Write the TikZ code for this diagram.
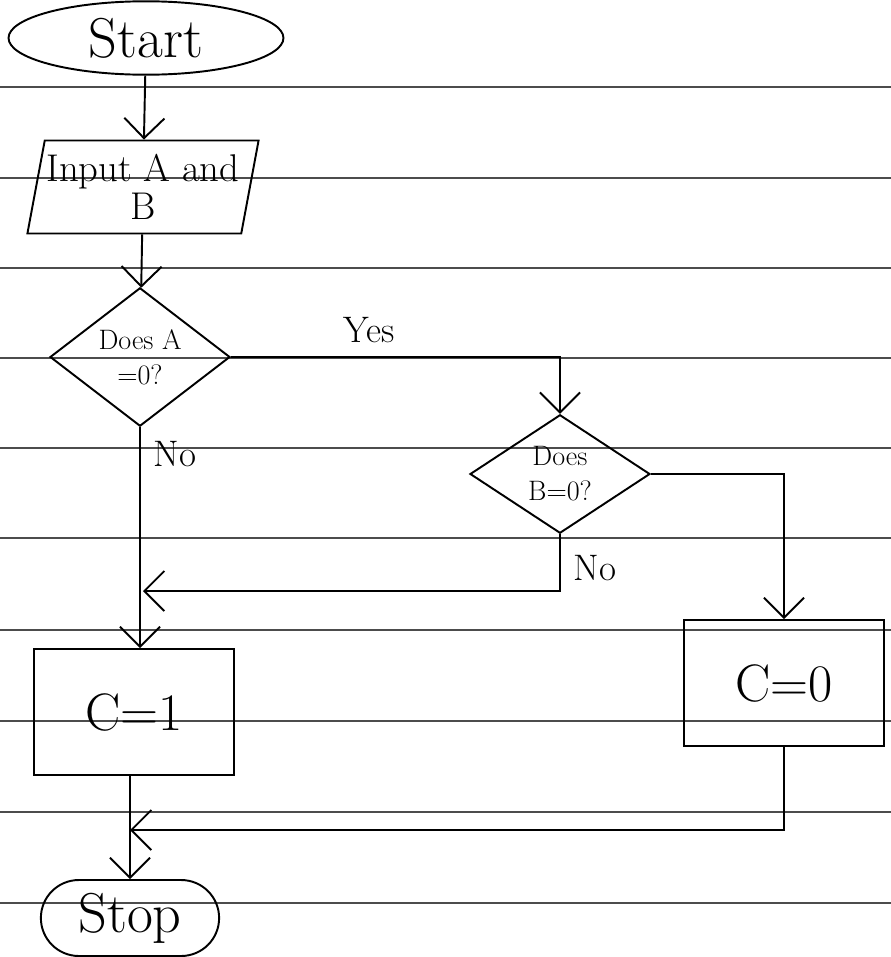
\documentclass[tikz,border=0pt]{standalone}
\usepackage{fontspec}
\usetikzlibrary{shapes.geometric,shapes.misc,arrows.meta}
\tikzset{term/.style={draw,ellipse,minimum width=5.5cm,minimum height=1.35cm,font=\fontsize{32}{36}\selectfont},
 io/.style={draw,trapezium,trapezium left angle=76,trapezium right angle=104,trapezium stretches body,minimum width=4.4cm,minimum height=1.86cm,inner sep=1pt,align=center,font=\fontsize{22}{22}\selectfont},
 dec/.style={draw,diamond,minimum width=3.6cm,minimum height=2.1cm,inner sep=0pt,align=center,font=\fontsize{16}{20}\selectfont},
 proc/.style={draw,rectangle,minimum width=4cm,minimum height=2.52cm,font=\fontsize{30}{36}\selectfont},
 endbox/.style={draw,rounded rectangle,minimum width=3.8cm,minimum height=1.52cm,font=\fontsize{32}{36}\selectfont},
 flow/.style={-{Straight Barb[length=4mm,width=8mm]}},
 lbl/.style={font=\fontsize{21}{24}\selectfont},
 rule/.style={black!70,line width=.7pt}}

\begin{document}
\begin{tikzpicture}[x=.02cm,y=-.02cm,line width=1.1pt]
\useasboundingbox (0,0) rectangle (891,957);
\foreach \y in {87,178,268,358,448,538,630,721,812,903} \draw[rule] (0,\y)--(891,\y);
\node[term](start) at(146,38){Start};
\node[io](inp) at(143,187){Input A and\\B};
\node[dec](qa) at(140,357){Does A\\=0?};
\node[dec](qb) at(560,474){Does\\B=0?};
\node[proc](c1) at(134,712){C=1};
\node[proc](c0) at(784,683){C=0};
\node[endbox](stop) at(130,918){Stop};
\coordinate(ja) at(143,591);
\coordinate(jb) at(130,830);
\draw[flow](start)--(inp);
\draw[flow](inp)--(qa);
\draw[flow](qa.east)-|node[lbl,pos=.21,above=4pt]{Yes}(qb.north);
\draw[flow](qa.south)--node[lbl,pos=.12,right=4pt]{No}(qa.south|-c1.north);
\draw[flow](qb.east)-|(c0.north);
\draw[flow](qb.south)|-node[lbl,pos=.3,right=4pt]{No}(ja);
\draw[flow](c0.south)|-(jb);
\draw[flow](c1.south-|stop.north)--(stop.north);
\end{tikzpicture}
\end{document}
